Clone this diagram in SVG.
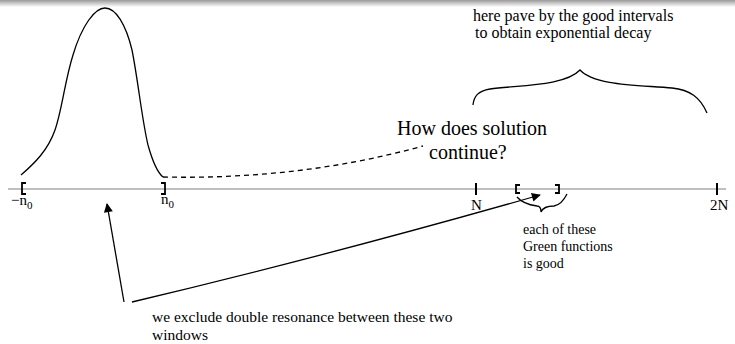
<svg xmlns="http://www.w3.org/2000/svg" width="735" height="344" viewBox="0 0 735 344">
<defs>
<linearGradient id="topband" x1="0" y1="0" x2="0" y2="1">
<stop offset="0" stop-color="#9a9a9a"/>
<stop offset="1" stop-color="#ffffff"/>
</linearGradient>
<marker id="arr" viewBox="0 0 10 10" refX="9" refY="5" markerWidth="14" markerHeight="9" markerUnits="userSpaceOnUse" orient="auto">
<path d="M0,0 L10,5 L0,10 z" fill="#000"/>
</marker>
<style>
.t{font-family:"Liberation Serif","Times New Roman",serif;fill:#000}
.ln{fill:none;stroke:#000;stroke-width:1.3}
.br{fill:none;stroke:#000;stroke-width:1.8}
.tk{stroke:#000;stroke-width:2}
</style>
</defs>
<rect x="0" y="0" width="735" height="344" fill="#fff"/>
<rect x="0" y="0" width="735" height="7" fill="url(#topband)"/>
<g id="axis">
<line x1="8" y1="189" x2="726" y2="189" stroke="#808080" stroke-width="1.2"/>
<line class="tk" x1="476" y1="183" x2="476" y2="195"/>
<line class="tk" x1="717" y1="183" x2="717" y2="195"/>
<path class="br" d="M26,183 H22 V194 H26"/>
<path class="br" d="M161,183 H165 V194 H161"/>
<path class="br" stroke-width="1.4" d="M520,185 H516 V193 H520"/>
<path class="br" stroke-width="1.4" d="M555,185 H559 V193 H555"/>
<text class="t" x="11" y="205" font-size="15">−n<tspan font-size="11" dy="4">0</tspan></text>
<text class="t" x="161" y="204" font-size="15">n<tspan font-size="11" dy="4">0</tspan></text>
<text class="t" x="471" y="210" font-size="15">N</text>
<text class="t" x="710" y="210" font-size="15">2N</text>
</g>
<g id="bump">
<path class="ln" d="M21,175 C35,163 48,150 55,130 C62,110 65,80 73,55 C82,25 95,8 105,8 C116,8 126,25 132,50 C138,80 142,120 148,145 C153,163 158,173 163,177"/>
</g>
<g id="continuation">
<path class="ln" stroke-dasharray="5,4" d="M163,177 Q300,180 423,146"/>
<text class="t" x="397" y="135" font-size="20">How does solution</text>
<text class="t" x="429" y="159" font-size="20">continue?</text>
</g>
<g id="pave">
<text class="t" x="473" y="21" font-size="16">here pave by the good intervals</text>
<text class="t" x="475" y="38" font-size="16">to obtain exponential decay</text>
<path class="ln" d="M473,105 C474,96 478,91 490,89 C520,85 565,86 580,70 C595,86 640,85 672,88 C690,90 700,97 707,113"/>
</g>
<g id="green">
<path class="ln" d="M517,197 C522,203 530,205 537,206 C540,206 541,209 541,212 C543,207 548,206 554,206 C560,205 564,200 567,194"/>
<text class="t" x="523" y="234" font-size="14">each of these</text>
<text class="t" x="523" y="251" font-size="14">Green functions</text>
<text class="t" x="523" y="268" font-size="14">is good</text>
</g>
<g id="connectors">
<path class="ln" marker-end="url(#arr)" d="M124,302 L107,204"/>
<path class="ln" marker-end="url(#arr)" d="M132,302 Q330,255 540,195"/>
</g>
<g id="exclude">
<text class="t" x="152" y="322" font-size="15.5">we exclude double resonance between these two</text>
<text class="t" x="152" y="340" font-size="15.5">windows</text>
</g>
</svg>
